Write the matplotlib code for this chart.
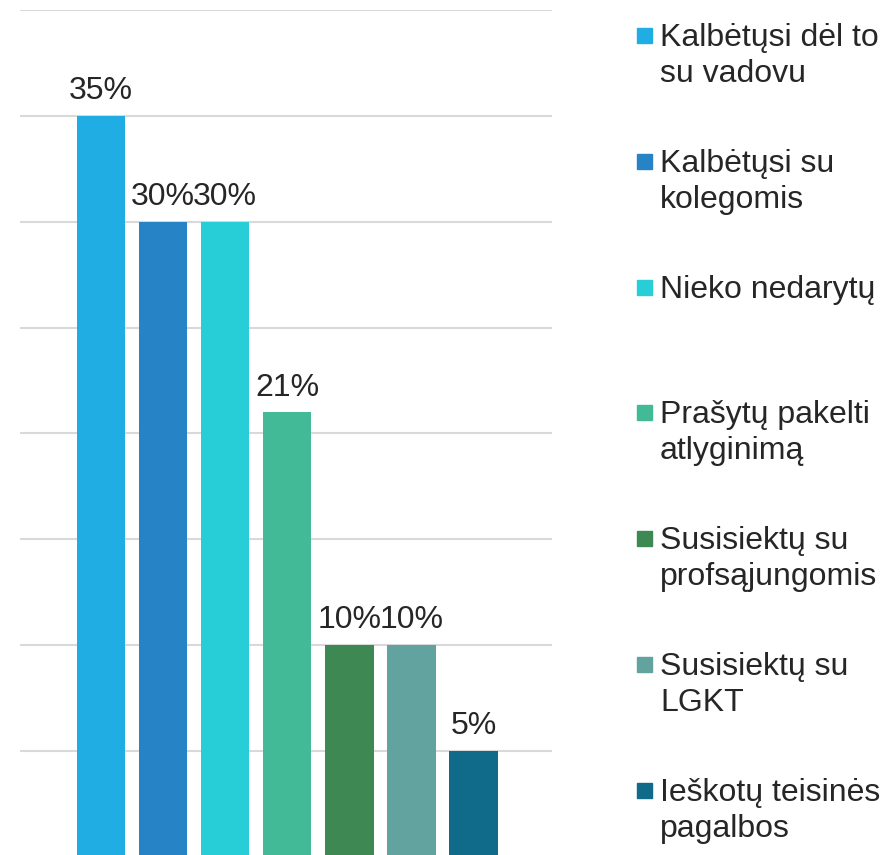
import matplotlib
matplotlib.use("Agg")
import matplotlib.pyplot as plt
from matplotlib.patches import Rectangle

plt.rcParams['font.family'] = ['Liberation Sans', 'DejaVu Sans']

# Duomenys
kategorijos = [
    'Kalbėtųsi dėl to\nsu vadovu',
    'Kalbėtųsi su\nkolegomis',
    'Nieko nedarytų',
    'Prašytų pakelti\natlyginimą',
    'Susisiektų su\nprofsąjungomis',
    'Susisiektų su\nLGKT',
    'Ieškotų teisinės\npagalbos',
]
reiksmes = [35, 30, 30, 21, 10, 10, 5]
spalvos = ['#1FADE4', '#2683C6', '#27CED7', '#42BA97', '#3E8853', '#62A39F', '#106A8A']
tekstas = '#262626'

fig = plt.figure(figsize=(8.84, 8.55), dpi=100)
ax = fig.add_axes([20 / 884, -1.8 / 855, 532 / 884, 846.6 / 855])

x = list(range(len(reiksmes)))
bars = ax.bar(x, reiksmes, width=0.78, color=spalvos, zorder=3)
ax.bar_label(bars, labels=[f'{v}%' for v in reiksmes], padding=7,
             fontsize=23, color=tekstas)

ax.set_ylim(0, 40)
ax.set_xlim(-1.3, 7.26)
ax.set_yticks(range(5, 41, 5))
ax.yaxis.grid(True, color='#D9D9D9', linewidth=1.5, zorder=0)
ax.tick_params(left=False, bottom=False, labelleft=False, labelbottom=False)
for s in ax.spines.values():
    s.set_visible(False)

# Legenda (bazinė linija skaičiuojama pagal paskutinę eilutę)
for i, (lbl, c) in enumerate(zip(kategorijos, spalvos)):
    y0 = 46 + i * 125.8
    n = lbl.count('\n')
    fig.patches.append(Rectangle((637 / 884, (855 - y0 + 3) / 855), 15 / 884, 15 / 855,
                                 transform=fig.transFigure, color=c))
    fig.text(660 / 884, (855 - y0 - n * 36) / 855, lbl, fontsize=23, color=tekstas,
             va='baseline', ha='left', linespacing=1.26)

fig.savefig('out.png', dpi=100)
